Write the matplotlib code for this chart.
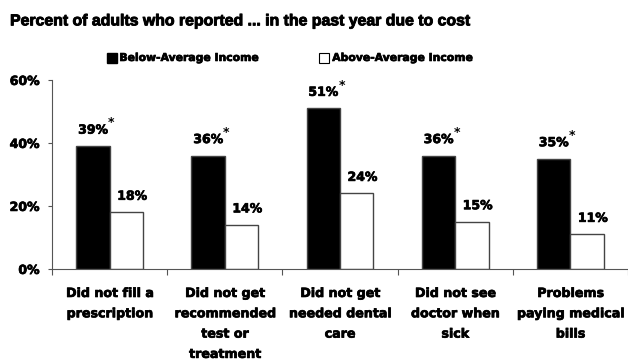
import numpy as np
import matplotlib.pyplot as plt
import matplotlib.patheffects as pe
from matplotlib.patches import Rectangle

plt.rcParams['font.family'] = ['DejaVu Sans']
plt.rcParams['font.weight'] = 'bold'

categories = ['Did not fill a\nprescription',
              'Did not get\nrecommended\ntest or\ntreatment',
              'Did not get\nneeded dental\ncare',
              'Did not see\ndoctor when\nsick',
              'Problems\npaying medical\nbills']
below = [39, 36, 51, 36, 35]
above = [18, 14, 24, 15, 11]
series_names = ['Below-Average Income', 'Above-Average Income']

# heavier look, like Arial Black
heavy = [pe.withStroke(linewidth=0.5, foreground='black')]

fig = plt.figure(figsize=(6.28, 3.6), dpi=100)
ax = fig.add_axes([0.083, 0.253, 0.917, 0.525])

x = np.arange(len(categories))
w = 0.29
ax.bar(x - w / 2, below, w, color='black', edgecolor='#444444', linewidth=1)
ax.bar(x + w / 2, above, w, color='white', edgecolor='#444444', linewidth=1)

for i in range(len(x)):
    t = ax.text(x[i] - w / 2, below[i] + 3, f'{below[i]}%', ha='center', va='bottom',
                fontsize=9, fontweight='bold', path_effects=heavy)
    ax.annotate('*', xy=(1, 0.55), xycoords=t, ha='left', va='bottom',
                fontsize=9, fontweight='bold')
    ax.text(x[i] + w / 2 + 0.05, above[i] + 3, f'{above[i]}%', ha='center', va='bottom',
            fontsize=9, fontweight='bold', path_effects=heavy)

ax.set_xlim(-0.5, len(x) - 0.5)
ax.set_ylim(0, 60)
ax.set_yticks([0, 20, 40, 60])
ax.set_yticklabels(['0%', '20%', '40%', '60%'], fontsize=9, fontweight='bold')
for lab in ax.get_yticklabels():
    lab.set_path_effects(heavy)
ax.set_xticks(np.arange(len(x) + 1) - 0.5)
ax.set_xticklabels([])
ax.set_xticks(x, minor=True)
ax.set_xticklabels(categories, minor=True, fontsize=9.1, fontweight='bold',
                   linespacing=1.73, va='top')
for lab in ax.get_xticklabels(minor=True):
    lab.set_path_effects(heavy)
ax.tick_params(axis='x', which='minor', length=0, pad=13)
ax.tick_params(axis='x', which='major', length=4, color='#555555')
ax.tick_params(axis='y', length=3, color='#555555', pad=6)
for s in ['top', 'right']:
    ax.spines[s].set_visible(False)
for s in ['left', 'bottom']:
    ax.spines[s].set_color('#555555')

fig.text(0.016, 0.942, 'Percent of adults who reported ... in the past year due to cost',
         fontsize=11.4, fontweight='bold', va='center', ha='left',
         family='Liberation Sans',
         path_effects=[pe.withStroke(linewidth=0.65, foreground='black')])

# legend
fig.patches.append(Rectangle((0.171, 0.825), 0.016, 0.028, transform=fig.transFigure,
                             facecolor='black', edgecolor='black'))
fig.text(0.19, 0.839, series_names[0], fontsize=7.8, fontweight='bold', va='center',
         path_effects=heavy)
fig.patches.append(Rectangle((0.508, 0.825), 0.016, 0.028, transform=fig.transFigure,
                             facecolor='white', edgecolor='black', linewidth=0.8))
fig.text(0.529, 0.839, series_names[1], fontsize=7.8, fontweight='bold', va='center',
         path_effects=heavy)

fig.savefig('out.png', dpi=100)
